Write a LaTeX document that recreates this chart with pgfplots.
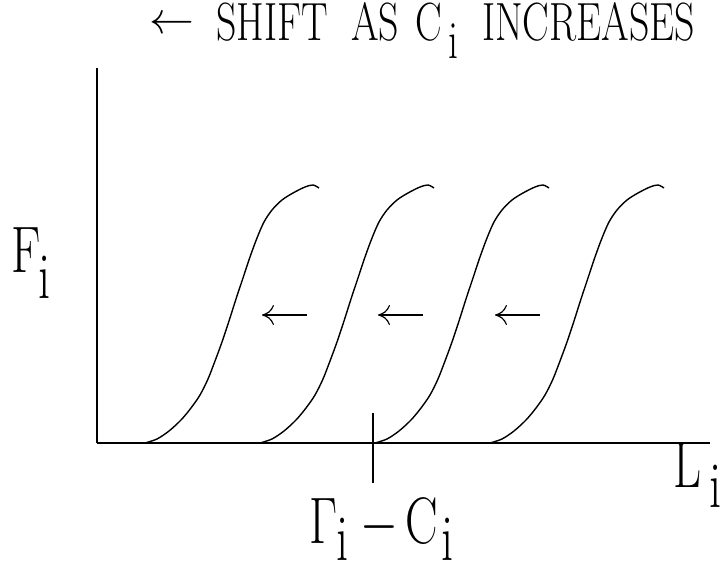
\RequirePackage{fix-cm}
\documentclass[border=0pt]{standalone}
\usepackage{pgfplots}
\pgfplotsset{compat=1.18}
\usetikzlibrary{arrows.meta}

\tikzset{
  big/.style={anchor=base west, inner sep=0, xscale=0.74,
              font=\fontsize{66}{72}\selectfont},
  ttl/.style={anchor=base west, inner sep=0, xscale=0.74,
              font=\fontsize{54}{60}\selectfont},
}

\begin{document}
\begin{tikzpicture}
\begin{axis}[
  width=613bp, height=375bp, scale only axis,
  xmin=0, xmax=613, ymin=0, ymax=375,
  axis lines=left,
  axis line style={-, line width=1.8bp},
  ticks=none, clip=false,
  every axis plot/.append style={line width=1.4bp, black},
]
% the same response curve, shifted along L_i
\addplot[smooth, tension=0.5] coordinates {
 (48,0) (60,4) (72,12) (84,23) (94,35) (103,48) (111,64) (118,82) (125,101)
 (132,122) (139,144) (146,165) (153,186) (160,205) (167,221) (175,233)
 (185,243) (196,250) (208,256) (216,258) (222,255)};
\addplot[smooth, tension=0.5] coordinates {
 (163,0) (175,4) (187,12) (199,23) (209,35) (218,48) (226,64) (233,82) (240,101)
 (247,122) (254,144) (261,165) (268,186) (275,205) (282,221) (290,233)
 (300,243) (311,250) (323,256) (331,258) (337,255)};
\addplot[smooth, tension=0.5] coordinates {
 (278,0) (290,4) (302,12) (314,23) (324,35) (333,48) (341,64) (348,82) (355,101)
 (362,122) (369,144) (376,165) (383,186) (390,205) (397,221) (405,233)
 (415,243) (426,250) (438,256) (446,258) (452,255)};
\addplot[smooth, tension=0.5] coordinates {
 (393,0) (405,4) (417,12) (429,23) (439,35) (448,48) (456,64) (463,82) (470,101)
 (477,122) (484,144) (491,165) (498,186) (505,205) (512,221) (520,233)
 (530,243) (541,250) (553,256) (561,258) (567,255)};

% shift arrows
\addplot[line width=1.2bp, {To[length=12bp,width=20bp]}-] coordinates {(165,128) (210,128)};
\addplot[line width=1.2bp, {To[length=12bp,width=20bp]}-] coordinates {(281,128) (326,128)};
\addplot[line width=1.2bp, {To[length=12bp,width=20bp]}-] coordinates {(398,128) (443,128)};

% marker at Gamma_i - C_i
\addplot[line width=1.2bp] coordinates {(276,30) (276,-40)};

% heading
\node[anchor=base west, inner sep=0, font=\fontsize{45}{54}\selectfont]
  at (axis cs:52,409) {$\leftarrow$};
\node[ttl] at (axis cs:119,402) {SHIFT};
\node[ttl] at (axis cs:254,402) {AS};
\node[ttl] at (axis cs:318,402) {C};
\node[ttl] at (axis cs:351,384) {i};
\node[ttl] at (axis cs:385,402) {INCREASES};

% axis names
\node[big] at (axis cs:-86,170) {F};
\node[big] at (axis cs:-59,144) {i};
\node[big] at (axis cs:576,-44) {L};
\node[big] at (axis cs:612,-64) {i};

% Gamma_i - C_i
\node[big] at (axis cs:212,-100) {$\Gamma$};
\node[big] at (axis cs:239,-117) {i};
\node[big] at (axis cs:263,-100) {$-$};
\node[big] at (axis cs:308,-100) {C};
\node[big] at (axis cs:344,-117) {i};

\coordinate (bbl) at (axis cs:-97,-122);
\coordinate (btr) at (axis cs:625,443);
\end{axis}
\pgfresetboundingbox
\path[use as bounding box] (bbl) rectangle (btr);
\end{tikzpicture}
\end{document}
